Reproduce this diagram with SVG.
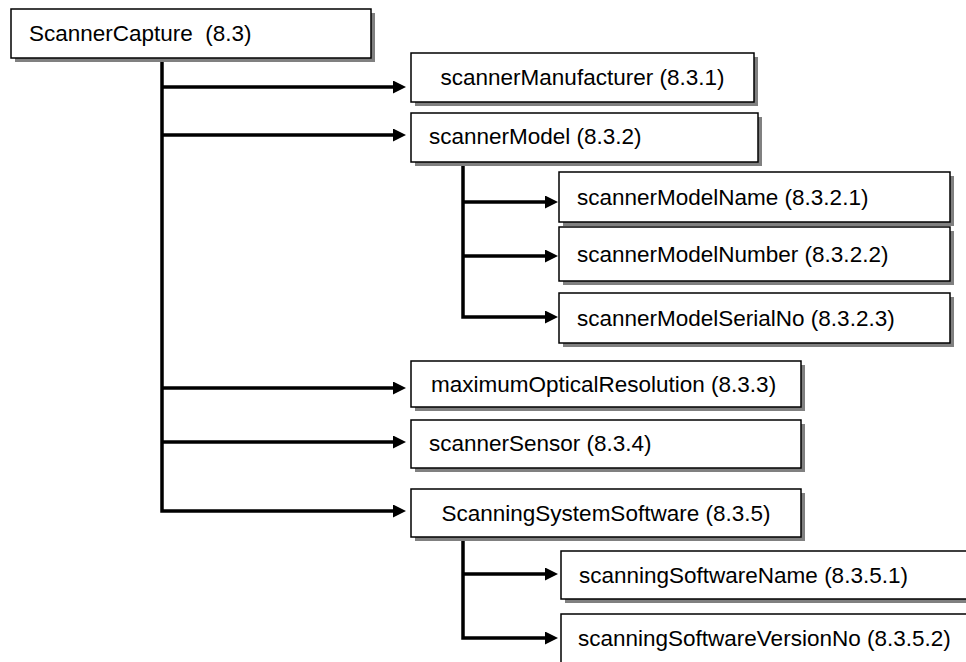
<svg xmlns="http://www.w3.org/2000/svg" width="966" height="662" viewBox="0 0 966 662">
<style>
.sh{fill:#808080}
.bx{fill:#fff;stroke:#000;stroke-width:1.5}
.t{font-family:"Liberation Sans",Arial,sans-serif;font-size:22.5px;fill:#000}
.c{fill:none;stroke:#000;stroke-width:3.5}
</style>
<defs>
<marker id="ah" markerUnits="userSpaceOnUse" markerWidth="14" markerHeight="14" refX="7" refY="6.5" orient="auto">
<path d="M0,0 L13,6.5 L0,13 Z" fill="#000"/>
</marker>
</defs>
<rect width="966" height="662" fill="#fff"/>
<g id="connectors">
<path class="c" d="M162,87 H400" marker-end="url(#ah)"/>
<path class="c" d="M162,135 H400" marker-end="url(#ah)"/>
<path class="c" d="M162,388 H400" marker-end="url(#ah)"/>
<path class="c" d="M162,442 H400" marker-end="url(#ah)"/>
<path class="c" d="M162,62 V511 H400" marker-end="url(#ah)"/>
<path class="c" d="M463,202 H552" marker-end="url(#ah)"/>
<path class="c" d="M463,256 H552" marker-end="url(#ah)"/>
<path class="c" d="M463,164 V317 H552" marker-end="url(#ah)"/>
<path class="c" d="M463,574 H552" marker-end="url(#ah)"/>
<path class="c" d="M463,539 V638 H552" marker-end="url(#ah)"/>
</g>
<g id="n-scannerCapture">
<rect class="sh" x="15" y="13" width="360" height="49"/>
<rect class="bx" x="11" y="9" width="360" height="49"/>
<text class="t" x="29" y="41" xml:space="preserve">ScannerCapture  (8.3)</text>
</g>
<g id="n-scannerManufacturer">
<rect class="sh" x="415" y="57" width="343" height="49"/>
<rect class="bx" x="411" y="53" width="343" height="49"/>
<text class="t" x="582.5" y="84.5" text-anchor="middle">scannerManufacturer (8.3.1)</text>
</g>
<g id="n-scannerModel">
<rect class="sh" x="415" y="117" width="347" height="49"/>
<rect class="bx" x="411" y="113" width="347" height="49"/>
<text class="t" x="429" y="143.5">scannerModel (8.3.2)</text>
</g>
<g id="n-scannerModelName">
<rect class="sh" x="563" y="176" width="391" height="50"/>
<rect class="bx" x="559" y="172" width="391" height="50"/>
<text class="t" x="577" y="205">scannerModelName (8.3.2.1)</text>
</g>
<g id="n-scannerModelNumber">
<rect class="sh" x="563" y="231" width="391" height="54"/>
<rect class="bx" x="559" y="227" width="391" height="54"/>
<text class="t" x="577" y="262">scannerModelNumber (8.3.2.2)</text>
</g>
<g id="n-scannerModelSerialNo">
<rect class="sh" x="563" y="297" width="391" height="50"/>
<rect class="bx" x="559" y="293" width="391" height="50"/>
<text class="t" x="577" y="326">scannerModelSerialNo (8.3.2.3)</text>
</g>
<g id="n-maximumOpticalResolution">
<rect class="sh" x="415" y="365" width="390" height="46"/>
<rect class="bx" x="411" y="361" width="390" height="46"/>
<text class="t" x="431" y="392">maximumOpticalResolution (8.3.3)</text>
</g>
<g id="n-scannerSensor">
<rect class="sh" x="415" y="424" width="390" height="48"/>
<rect class="bx" x="411" y="420" width="390" height="48"/>
<text class="t" x="429" y="451">scannerSensor (8.3.4)</text>
</g>
<g id="n-scanningSystemSoftware">
<rect class="sh" x="415" y="493" width="390" height="48"/>
<rect class="bx" x="411" y="489" width="390" height="48"/>
<text class="t" x="606" y="521" text-anchor="middle">ScanningSystemSoftware (8.3.5)</text>
</g>
<g id="n-scanningSoftwareName">
<rect class="sh" x="565" y="555" width="420" height="48"/>
<rect class="bx" x="561" y="551" width="420" height="48"/>
<text class="t" x="579" y="583">scanningSoftwareName (8.3.5.1)</text>
</g>
<g id="n-scanningSoftwareVersionNo">
<rect class="sh" x="565" y="618" width="420" height="60"/>
<rect class="bx" x="561" y="614" width="420" height="60"/>
<text class="t" x="578" y="646">scanningSoftwareVersionNo (8.3.5.2)</text>
</g>
</svg>
